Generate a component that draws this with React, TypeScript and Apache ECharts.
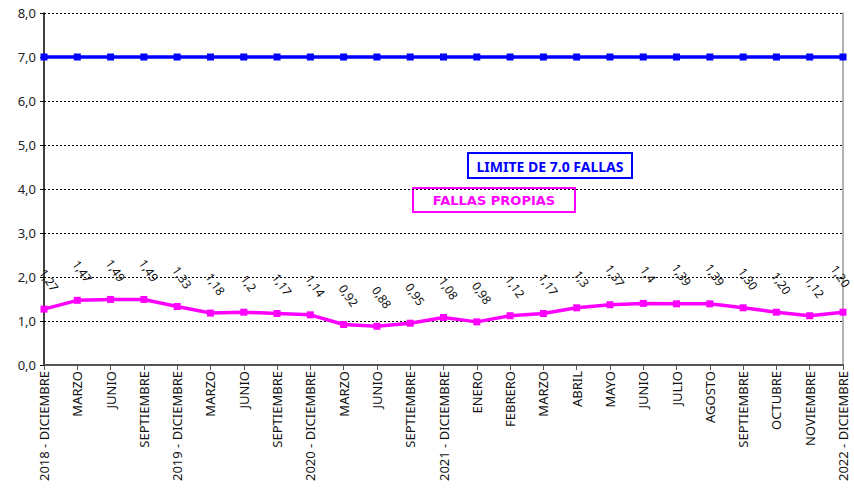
import React, { useEffect, useRef } from "react";
import * as echarts from "echarts";

const categories = [
  "2018 - DICIEMBRE", "MARZO", "JUNIO", "SEPTIEMBRE",
  "2019 - DICIEMBRE", "MARZO", "JUNIO", "SEPTIEMBRE",
  "2020 - DICIEMBRE", "MARZO", "JUNIO", "SEPTIEMBRE",
  "2021 - DICIEMBRE", "ENERO", "FEBRERO", "MARZO", "ABRIL", "MAYO",
  "JUNIO", "JULIO", "AGOSTO", "SEPTIEMBRE", "OCTUBRE", "NOVIEMBRE",
  "2022 - DICIEMBRE",
];

const fallasPropias = [
  1.27, 1.47, 1.49, 1.49, 1.33, 1.18, 1.2, 1.17, 1.14, 0.92, 0.88, 0.95,
  1.08, 0.98, 1.12, 1.17, 1.3, 1.37, 1.4, 1.39, 1.39, 1.3, 1.2, 1.12, 1.2,
];

const fallasLabels = [
  "1,27", "1,47", "1,49", "1,49", "1,33", "1,18", "1,2", "1,17", "1,14", "0,92", "0,88", "0,95",
  "1,08", "0,98", "1,12", "1,17", "1,3", "1,37", "1,4", "1,39", "1,39", "1,30", "1,20", "1,12", "1,20",
];

const limite = categories.map(() => 7.0);

const yMin = 0;
const yMax = 8;
const yInterval = 1;

const FONT = "'Noto Sans', sans-serif";

export default function App() {
  const ref = useRef<HTMLDivElement>(null);
  useEffect(() => {
    if (!ref.current) return;
    const chart = echarts.init(ref.current, undefined, { renderer: "svg" });
    const last = fallasPropias.length - 1;
    chart.setOption({
      animation: false,
      backgroundColor: "#ffffff",
      grid: { left: 44, right: 11, top: 13, bottom: 133, containLabel: false },
      xAxis: {
        type: "category",
        data: categories,
        boundaryGap: false,
        axisLine: { show: true, lineStyle: { color: "#555555", width: 2 } },
        axisTick: { show: true, alignWithLabel: true, length: 5, lineStyle: { color: "#555555" } },
        axisLabel: {
          rotate: 90,
          interval: 0,
          color: "#111111",
          fontFamily: FONT,
          fontSize: 13,
          margin: 6,
        },
        splitLine: { show: false },
      },
      yAxis: [
        {
          type: "value",
          min: yMin,
          max: yMax,
          interval: yInterval,
          axisLine: { show: true, lineStyle: { color: "#000000", width: 1.5 } },
          axisTick: { show: true, length: 4, lineStyle: { color: "#000000" } },
          axisLabel: {
            color: "#222222",
            fontFamily: FONT,
            fontSize: 13,
            margin: 8,
            formatter: (v: number) => v.toFixed(1).replace(".", ","),
          },
          splitLine: { show: true, lineStyle: { color: "#000000", type: [2, 2], width: 1 } },
        },
        {
          type: "value",
          min: yMin,
          max: yMax,
          interval: yInterval,
          position: "right",
          axisLine: { show: true, lineStyle: { color: "#999999", width: 1.5 } },
          axisTick: { show: false },
          axisLabel: { show: false },
          splitLine: { show: false },
        },
      ],
      series: [
        {
          name: "LIMITE DE 7.0 FALLAS",
          type: "line",
          data: limite,
          color: "#0000ff",
          lineStyle: { color: "#0000ff", width: 3.5 },
          itemStyle: { color: "#0000ff" },
          symbol: "rect",
          symbolSize: 7,
          z: 3,
        },
        {
          name: "FALLAS PROPIAS",
          type: "line",
          data: fallasPropias.map((v, i) =>
            i === last ? { value: v, label: { offset: [-10, 2] } } : v
          ),
          color: "#ff00ff",
          lineStyle: { color: "#ff00ff", width: 3.5 },
          itemStyle: { color: "#ff00ff" },
          symbol: "rect",
          symbolSize: 7,
          z: 3,
          label: {
            show: true,
            position: "top",
            distance: 22,
            rotate: -55,
            color: "#111111",
            fontFamily: FONT,
            fontSize: 12,
            formatter: (p: any) => fallasLabels[p.dataIndex],
          },
        },
      ],
      graphic: [
        {
          type: "group",
          left: 467,
          top: 152,
          children: [
            {
              type: "rect",
              shape: { x: 0, y: 0, width: 164, height: 25 },
              style: { fill: "#ffffff", stroke: "#0000ff", lineWidth: 2 },
            },
            {
              type: "text",
              x: 82,
              y: 13,
              style: {
                text: "LIMITE DE 7.0 FALLAS",
                fill: "#0000ff",
                font: `bold 14px ${FONT}`,
                align: "center",
                verticalAlign: "middle",
              },
            },
          ],
        },
        {
          type: "group",
          left: 412,
          top: 187,
          children: [
            {
              type: "rect",
              shape: { x: 0, y: 0, width: 162, height: 24 },
              style: { fill: "#ffffff", stroke: "#ff00ff", lineWidth: 2 },
            },
            {
              type: "text",
              x: 81,
              y: 12,
              style: {
                text: "FALLAS PROPIAS",
                fill: "#ff00ff",
                font: `bold 13px 'DejaVu Sans', sans-serif`,
                align: "center",
                verticalAlign: "middle",
              },
            },
          ],
        },
      ],
    });
    return () => chart.dispose();
  }, []);
  return (
    <div
      ref={ref}
      style={{ position: "absolute", left: 0, top: 0, width: 854, height: 498 }}
    />
  );
}
